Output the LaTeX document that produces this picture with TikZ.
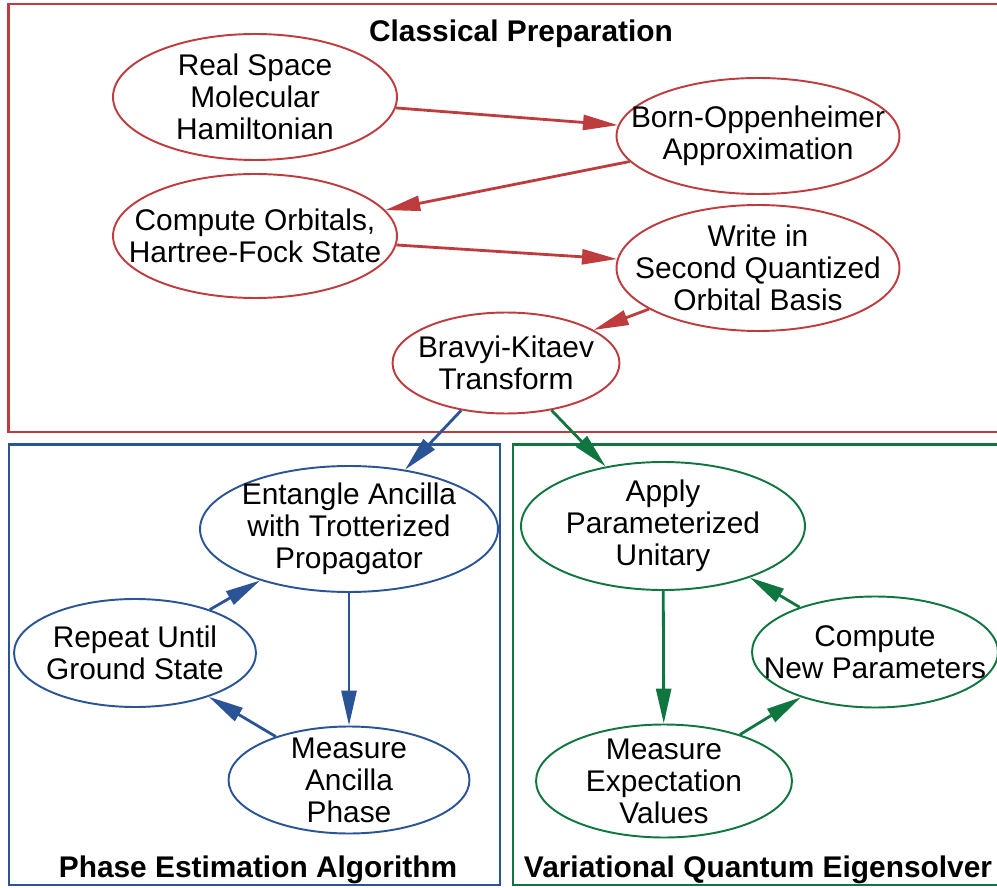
\documentclass[tikz,border=0pt]{standalone}
\usepackage{fontspec}
\setmainfont{Liberation Sans}
\usetikzlibrary{shapes.geometric, arrows.meta}

\definecolor{prepred}{RGB}{190,60,62}
\definecolor{peablue}{RGB}{42,84,150}
\definecolor{vqegreen}{RGB}{16,118,64}

\begin{document}
\begin{tikzpicture}[x=0.02cm, y=-0.02cm, font=\fontsize{17}{18.2}\selectfont]
    % Define a style for all nodes
    \tikzstyle{stage} = [draw, ellipse, inner sep=0pt, line width=1.1pt]
    \tikzstyle{flow} = [-{Triangle[length=0.7cm, width=0.3cm]}, line width=1.6pt]
    \tikzstyle{group} = [line width=1.2pt]
    \tikzstyle{title} = [font=\bfseries\fontsize{17}{18.2}\selectfont, anchor=base]

    \useasboundingbox (0, 0) rectangle (997, 888);
    \clip (0, 0) rectangle (997, 888);

    % Boxes
    \draw[group, prepred] (8.5, 4) rectangle (1010, 432);
    \draw[group, peablue] (9, 444.5) rectangle (500, 885);
    \draw[group, vqegreen] (513, 444.5) rectangle (1010, 885);

    \node[title] (prep) at (521, 42) {Classical Preparation};
    \node[title] (pea) at (258, 877) {Phase Estimation Algorithm};
    \node[title] (vqe) at (758, 877) {Variational Quantum Eigensolver};

    % Nodes
    \node[stage, draw=prepred, minimum width=5.68cm, minimum height=2.52cm,
        label={[align=center]center:{Real Space\\Molecular\\Hamiltonian}}] (hamiltonian) at (255, 97) {};
    \node[stage, draw=prepred, minimum width=5.66cm, minimum height=2.32cm,
        label={[align=center]center:{Born-Oppenheimer\\Approximation}}] (born) at (758, 136) {};
    \node[stage, draw=prepred, minimum width=5.68cm, minimum height=2.48cm,
        label={[align=center]center:{Compute Orbitals,\\Hartree-Fock State}}] (orbitals) at (255, 236) {};
    \node[stage, draw=prepred, minimum width=5.66cm, minimum height=2.52cm,
        label={[align=center]center:{Write in\\Second Quantized\\Orbital Basis}}] (second) at (758, 268) {};
    \node[stage, draw=prepred, minimum width=4.54cm, minimum height=2.02cm,
        label={[align=center]center:{Bravyi-Kitaev\\Transform}}] (bk) at (506, 363) {};

    \node[stage, draw=peablue, minimum width=5.96cm, minimum height=2.52cm,
        label={[align=center]center:{Entangle Ancilla\\with Trotterized\\Propagator}}] (entangle) at (349, 529) {};
    \node[stage, draw=peablue, minimum width=4.84cm, minimum height=2.16cm,
        label={[align=center]center:{Repeat Until\\Ground State}}] (repeat) at (135, 653) {};
    \node[stage, draw=peablue, minimum width=4.82cm, minimum height=2.14cm,
        label={[align=center]center:{Measure\\Ancilla\\Phase}}] (phase) at (349, 780) {};

    \node[stage, draw=vqegreen, minimum width=5.68cm, minimum height=2.56cm,
        label={[align=center]center:{Apply\\Parameterized\\Unitary}}] (unitary) at (663, 526) {};
    \node[stage, draw=vqegreen, minimum width=4.92cm, minimum height=2.22cm,
        label={[align=center]center:{Compute\\New Parameters}}] (newparams) at (875, 652) {};
    \node[stage, draw=vqegreen, minimum width=5.12cm, minimum height=2.26cm,
        label={[align=center]center:{Measure\\Expectation\\Values}}] (expect) at (664, 781) {};

    % Edges with arrows
    \draw[flow, prepred] (hamiltonian) -- (born);
    \draw[flow, prepred] (born) -- (orbitals);
    \draw[flow, prepred] (orbitals) -- (second);
    \draw[flow, prepred] (second) -- (bk);
    \draw[flow, peablue] (bk) -- (entangle);
    \draw[flow, vqegreen] (bk) -- (unitary);

    \draw[flow, peablue] (entangle) -- (phase);
    \draw[flow, peablue] (phase) -- (repeat);
    \draw[flow, peablue] (repeat) -- (entangle);

    \draw[flow, vqegreen] (unitary) -- (expect);
    \draw[flow, vqegreen] (expect) -- (newparams);
    \draw[flow, vqegreen] (newparams) -- (unitary);
\end{tikzpicture}
\end{document}
